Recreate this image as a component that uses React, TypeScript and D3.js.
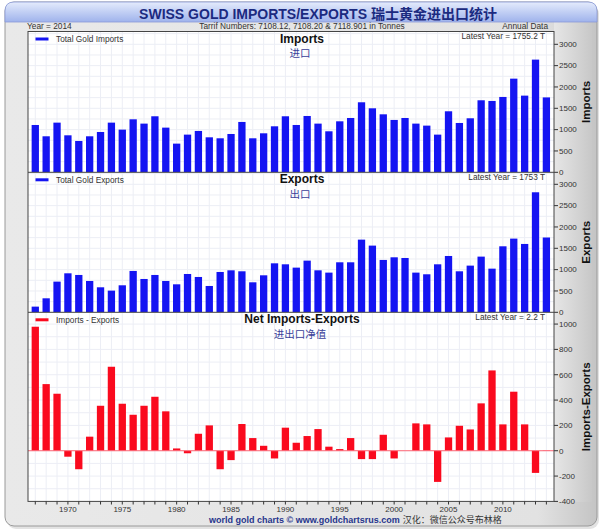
import React from "react";
import * as d3 from "d3";

const years = [1967,1968,1969,1970,1971,1972,1973,1974,1975,1976,1977,1978,1979,1980,1981,1982,1983,1984,1985,1986,1987,1988,1989,1990,1991,1992,1993,1994,1995,1996,1997,1998,1999,2000,2001,2002,2003,2004,2005,2006,2007,2008,2009,2010,2011,2012,2013,2014];

const imports = [1109,844,1164,867,734,844,945,1164,1000,1242,1141,1313,1047,672,883,969,820,797,898,1180,797,914,1078,1313,1109,1320,1141,961,1195,1273,1641,1500,1359,1227,1273,1141,1094,883,1430,1156,1266,1688,1672,1766,2195,1797,2641,1755.2];

const exportsData = [133,328,719,914,875,734,586,508,633,969,781,875,734,656,898,828,617,945,984,961,703,867,1148,1125,1047,1211,984,930,1172,1172,1703,1563,1227,1289,1273,930,891,1125,1320,961,1094,1305,1023,1547,1727,1602,2813,1753];

const netData = [979,526,450,-47,-146,111,355,663,371,284,355,426,311,18,-20,134,200,-146,-74,211,100,39,-61,182,63,116,171,32,13,100,-66,-66,126,-61,0,216,208,-246,105,197,168,374,634,208,466,208,-175,2.2];

const volTicks = [0,500,1000,1500,2000,2500,3000];
const netTicks = [-400,-200,0,200,400,600,800,1000];
const yearLabels = [1970,1975,1980,1985,1990,1995,2000,2005,2010];

const FONT = "'Liberation Sans', Arial, sans-serif";
const CJK = "'Noto Sans CJK SC', 'Liberation Sans', sans-serif";

const L = 28, R = 554;
const x = d3.scaleLinear().domain([1966.33, 2014.7]).range([L, R]);
const barW = 7.3;

type PanelProps = {
  top: number; bottom: number; y: d3.ScaleLinear<number, number>;
  data: number[]; color: string; ticks: number[]; minor: number[];
  legend: string; title: string; cn: string; latest: string; axisTitle: string;
  zeroLine?: boolean;
};

function Panel(p: PanelProps) {
  const y0 = p.y(0);
  const mid = (p.top + p.bottom) / 2;
  return (
    <g>
      <rect x={L} y={p.top} width={R - L} height={p.bottom - p.top} fill="#ffffff" />
      {years.map((yr) => (
        <line key={"vg" + yr} x1={x(yr)} x2={x(yr)} y1={p.top} y2={p.bottom} stroke="#eceef5" strokeWidth={1} />
      ))}
      {p.minor.map((t) => (
        <line key={"hg" + t} x1={L} x2={R} y1={p.y(t)} y2={p.y(t)} stroke="#eceef5" strokeWidth={1} />
      ))}
      {p.data.map((v, i) => {
        const yy = v >= 0 ? p.y(v) : y0;
        const h = Math.abs(p.y(v) - y0);
        return <rect key={"b" + i} x={x(years[i]) - barW / 2} y={yy} width={barW} height={h} fill={p.color} />;
      })}
      {p.zeroLine && <line x1={L} x2={R} y1={y0} y2={y0} stroke="#ff6a78" strokeWidth={1} />}
      <line x1={35.5} x2={48.5} y1={p.top + 7.5} y2={p.top + 7.5} stroke={p.color} strokeWidth={3} />
      <text x={56} y={p.top + 10.5} fontFamily={FONT} fontSize={8.3} fill="#333">{p.legend}</text>
      <text x={545} y={p.top + 7.5} textAnchor="end" fontFamily={FONT} fontSize={8.3} fill="#333">{p.latest}</text>
      <text x={302} y={p.top + 11} textAnchor="middle" fontFamily={FONT} fontWeight="bold" fontSize={12} fill="#111">{p.title}</text>
      <text x={300} y={p.top + 25.5} textAnchor="middle" fontFamily={CJK} fontSize={10.5} fill="#3a3f9a">{p.cn}</text>
      {p.ticks.map((t) => (
        <g key={"t" + t}>
          <line x1={R} x2={R + 4} y1={p.y(t)} y2={p.y(t)} stroke="#333" strokeWidth={1} />
          <text x={R + 5} y={p.y(t) + 2.8} fontFamily={FONT} fontSize={8} fill="#333">{t}</text>
        </g>
      ))}
      <text transform={`translate(590,${mid}) rotate(-90)`} textAnchor="middle" fontFamily={FONT} fontWeight="bold" fontSize={11.5} fill="#111">{p.axisTitle}</text>
    </g>
  );
}

export default function App() {
  const y1 = d3.scaleLinear().domain([0, 3300]).range([172.3, 31.5]);
  const y2 = d3.scaleLinear().domain([0, 3300]).range([312.3, 171.5]);
  const y3 = d3.scaleLinear().domain([-400, 1100]).range([501.4, 311.4]);
  const minorVol = d3.range(250, 3300, 250);
  const minorNet = d3.range(-300, 1100, 100);
  return (
    <svg width={600} height={531} style={{ position: "absolute", left: 0, top: 0 }}>
      <defs>
        <linearGradient id="frameG" x1="0" x2="1" y1="0" y2="0">
          <stop offset="0" stopColor="#e9e9e9" />
          <stop offset="0.9" stopColor="#e2e2e2" />
          <stop offset="1" stopColor="#c4c4c4" />
        </linearGradient>
        <linearGradient id="titleG" x1="0" x2="0" y1="0" y2="1">
          <stop offset="0" stopColor="#e4ebfc" />
          <stop offset="1" stopColor="#9fb3ec" />
        </linearGradient>
        <linearGradient id="rightG" x1="0" x2="1" y1="0" y2="0">
          <stop offset="0" stopColor="#e6e6e6" />
          <stop offset="1" stopColor="#c8c8c8" />
        </linearGradient>
      </defs>
      <rect x={0} y={0} width={600} height={531} fill="#ffffff" />
      <rect x={7} y={5} width={592} height={524} rx={9} fill="#d0d0d0" opacity={0.6} />
      <rect x={5} y={2} width={592} height={524} rx={9} fill="url(#frameG)" stroke="#9a9a9a" strokeWidth={1} />
      <rect x={R} y={22} width={38} height={480} fill="url(#rightG)" />
      <path d="M5,22 L5,11 Q5,2 14,2 L588,2 Q597,2 597,11 L597,22 Z" fill="url(#titleG)" stroke="#8a9ad8" strokeWidth={0.8} />
      <text x={318} y={18.5} textAnchor="middle" fontFamily={FONT} fontWeight="bold" fontSize={14} fill="#1b2a80">
        SWISS GOLD IMPORTS/EXPORTS <tspan fontFamily={CJK}>瑞士黄金进出口统计</tspan>
      </text>
      <text x={27} y={29} fontFamily={FONT} fontSize={8.3} fill="#333">Year = 2014</text>
      <text x={302} y={29} textAnchor="middle" fontFamily={FONT} fontSize={8.3} fill="#333">Tarrif Numbers: 7108.12, 7108.20 &amp; 7118.901 in Tonnes</text>
      <text x={548} y={29} textAnchor="end" fontFamily={FONT} fontSize={8.3} fill="#333">Annual Data</text>

      <Panel top={31.5} bottom={172.3} y={y1} data={imports} color="#1414f2" ticks={volTicks} minor={minorVol}
        legend="Total Gold Imports" title="Imports" cn="进口" latest="Latest Year = 1755.2 T" axisTitle="Imports" />
      <Panel top={172.3} bottom={312.3} y={y2} data={exportsData} color="#1414f2" ticks={volTicks} minor={minorVol}
        legend="Total Gold Exports" title="Exports" cn="出口" latest="Latest Year = 1753 T" axisTitle="Exports" />
      <Panel top={312.3} bottom={501.4} y={y3} data={netData} color="#fa0a1e" ticks={netTicks} minor={minorNet}
        legend="Imports - Exports" title="Net Imports-Exports" cn="进出口净值" latest="Latest Year = 2.2 T" axisTitle="Imports-Exports" zeroLine />

      <rect x={L} y={31.5} width={R - L} height={501.4 - 31.5} fill="none" stroke="#444" strokeWidth={1} />
      <line x1={L} x2={R} y1={172.3} y2={172.3} stroke="#444" strokeWidth={1} />
      <line x1={L} x2={R} y1={312.3} y2={312.3} stroke="#444" strokeWidth={1} />

      {years.map((yr) => (
        <line key={"xt" + yr} x1={x(yr)} x2={x(yr)} y1={501.4} y2={504.5} stroke="#333" strokeWidth={1} />
      ))}
      {yearLabels.map((yr) => (
        <text key={"xl" + yr} x={x(yr)} y={511.5} textAnchor="middle" fontFamily={FONT} fontSize={8} fill="#333">{yr}</text>
      ))}

      <text x={209} y={523} fontFamily={FONT} fontWeight="bold" fontSize={9} fill="#27358c">
        world gold charts © www.goldchartsrus.com
        <tspan fontFamily={CJK} fontWeight="normal" fill="#333" dx={3}>汉化：微信公众号布林格</tspan>
      </text>
    </svg>
  );
}
